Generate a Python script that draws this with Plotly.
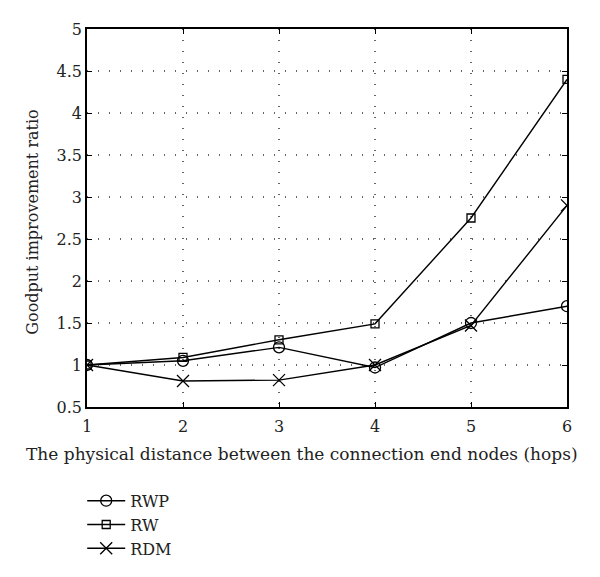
import plotly.graph_objects as go

hops = [1, 2, 3, 4, 5, 6]
rwp = [1.0, 1.05, 1.21, 0.97, 1.50, 1.70]
rw = [1.0, 1.09, 1.30, 1.49, 2.75, 4.40]
rdm = [1.0, 0.81, 0.82, 1.00, 1.47, 2.90]
xticks = [1, 2, 3, 4, 5, 6]
yticks = [0.5, 1, 1.5, 2, 2.5, 3, 3.5, 4, 4.5, 5]
ytick_text = ["0.5", "1", "1.5", "2", "2.5", "3", "3.5", "4", "4.5", "5"]
x_title = "The physical distance between the connection end nodes (hops)"
y_title = "Goodput improvement ratio"

font = "DejaVu Serif"
txt = "#222"
fig = go.Figure()
series = [("RWP", rwp, "circle-open", 11), ("RW", rw, "square-open", 8), ("RDM", rdm, "x-thin-open", 12)]
for name, vals, sym, sz in series:
    fig.add_trace(go.Scatter(
        x=hops, y=vals, name=name, mode="lines+markers",
        line=dict(color="black", width=1.4),
        marker=dict(symbol=sym, size=sz, color="black", line=dict(color="black", width=1.3)),
    ))

axis_common = dict(
    showline=True, linecolor="black", linewidth=1.5, mirror="allticks",
    ticks="inside", ticklen=5, tickcolor="black", automargin=False,
    showgrid=True, gridcolor="#666", griddash="1px,10px", gridwidth=1.5,
    zeroline=False, tickfont=dict(family=font, size=16, color=txt),
)
fig.update_xaxes(range=[1, 6], tickvals=xticks, ticklabelstandoff=4, **axis_common)
fig.update_yaxes(range=[0.5, 5], tickvals=yticks, ticktext=ytick_text, **axis_common)

fig.add_annotation(text=x_title, xref="paper", yref="paper", x=0.448, y=-0.124,
                   showarrow=False, xanchor="center", yanchor="middle",
                   font=dict(family=font, size=17, color=txt))
fig.add_annotation(text=y_title, xref="paper", yref="paper", x=-0.1125, y=0.49,
                   showarrow=False, xanchor="center", yanchor="middle", textangle=-90,
                   font=dict(family=font, size=16, color=txt))

# page body has an 8px margin, so the figure is 8px smaller on each side
fig.update_layout(
    width=592, height=569,
    margin=dict(l=79, r=33, t=21, b=169),
    plot_bgcolor="white", paper_bgcolor="white",
    font=dict(family=font, size=16, color=txt),
    legend=dict(x=-0.01, y=-0.2, xanchor="left", yanchor="top", itemwidth=38,
                font=dict(family=font, size=16, color=txt),
                bgcolor="rgba(0,0,0,0)", tracegroupgap=0),
    showlegend=True,
)
fig.write_html("out.html")
